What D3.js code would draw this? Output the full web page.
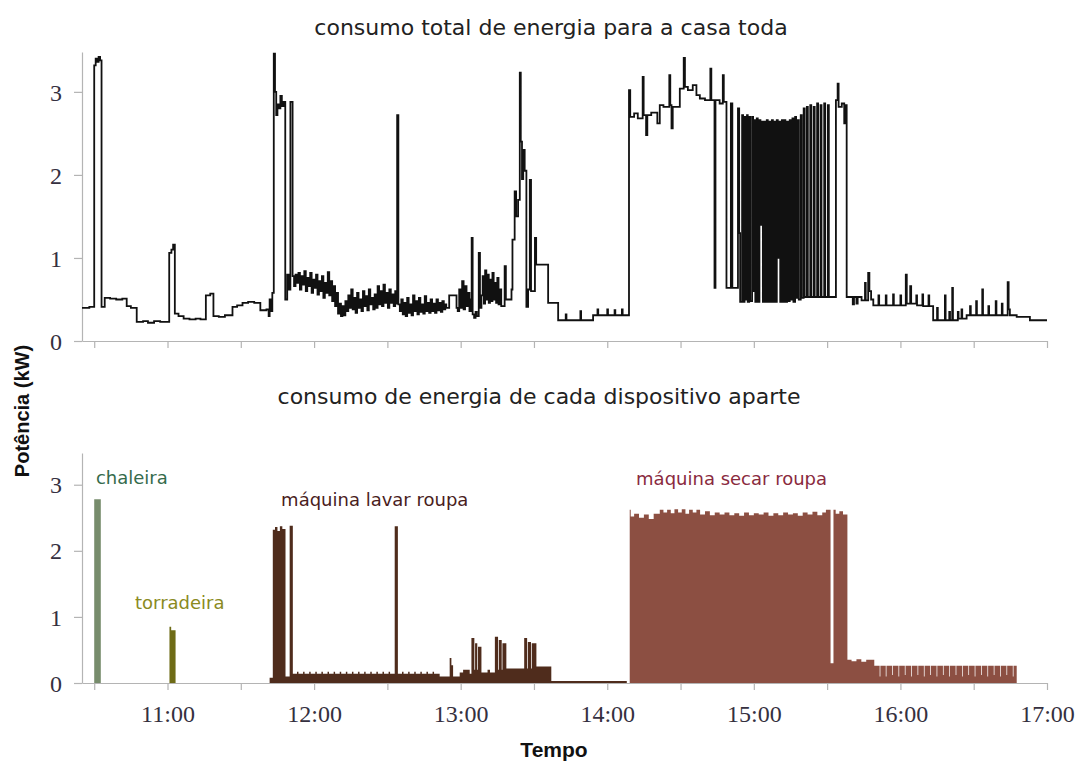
<!DOCTYPE html>
<html>
<head>
<meta charset="utf-8">
<script src="https://cdn.jsdelivr.net/npm/d3@7"></script>
<style>
  html, body { margin: 0; padding: 0; background: #fff; }
  svg { display: block; }
</style>
</head>
<body>
<svg id="chart" width="1080" height="765"></svg>
<script>
// ---------------- DATA (time in minutes of the day, power in kW) ----------------
const timeDomain = [625, 1020];            // 10:25 .. 17:00
const xTickValues = [630, 660, 690, 720, 750, 780, 810, 840, 870, 900, 930, 960, 990, 1020];
const xTickLabels = {660: "11:00", 720: "12:00", 780: "13:00", 840: "14:00", 900: "15:00", 960: "16:00", 1020: "17:00"};
const yTickValues = [0, 1, 2, 3];
const powerMax = 3.48;

const titleTop = "consumo total de energia para a casa toda";
const titleBottom = "consumo de energia de cada dispositivo aparte";
const yLabel = "Potência (kW)";
const xLabel = "Tempo";

// total house consumption (step series)
const totalSeries = [
 [625,0.40],[628,0.41],[630,3.32],[630.6,3.40],[631.2,3.36],[631.8,3.42],[632.4,3.38],[633,0.41],[634.3,0.52],[636.5,0.51],[639,0.50],[641.5,0.51],[643.3,0.42],[645,0.40],[647.4,0.23],[650,0.24],[652,0.22],[654.5,0.24],[657,0.23],
 [660.7,1.06],[661.6,1.10],[662.3,1.16],[663,0.33],[664.5,0.30],[666.6,0.27],[669,0.26],[671.5,0.27],[673.5,0.26],[675.7,0.55],[677.5,0.57],[678.8,0.30],[681,0.29],[683.5,0.31],[686.6,0.41],[688.5,0.43],[690.7,0.46],[693,0.47],[695.5,0.46],[698,0.37],[700.5,0.38],[701.4,0.30],[701.8,0.50],[702.4,0.36],[702.9,0.58],
 [703.5,3.46],[704.0,3.0],[704.5,2.72],[705,2.85],[705.6,2.80],[706.2,2.95],[706.8,2.83],[707.5,2.88],[708.2,0.50],[709,0.80],[709.6,0.62],[710.3,2.88],[711.2,0.78],
 [711.8,0.66],[712.4,0.80],[713,0.70],[713.6,0.82],[714.2,0.62],[714.8,0.78],[715.4,0.68],[716,0.84],[716.6,0.60],[717.2,0.76],[717.8,0.66],[718.4,0.82],[719,0.58],[719.6,0.74],[720.2,0.64],[720.8,0.80],[721.4,0.56],[722,0.72],[722.6,0.60],[723.2,0.78],[723.8,0.52],[724.4,0.70],[725,0.58],[725.6,0.83],[726.2,0.55],[726.8,0.72],[727.4,0.48],[728,0.66],[728.6,0.42],[729.2,0.58],[729.8,0.33],[730.4,0.45],[731,0.30],[731.6,0.42],[732.2,0.31],[732.8,0.48],[733.4,0.36],[734,0.55],[734.6,0.40],[735.2,0.62],[735.8,0.38],[736.4,0.52],[737,0.34],[737.6,0.58],[738.2,0.40],[738.8,0.50],[739.4,0.36],[740,0.60],[740.6,0.42],[741.2,0.54],[741.8,0.37],[742.4,0.62],[743,0.44],[743.6,0.52],[744.2,0.38],[744.8,0.56],[745.4,0.40],[746,0.66],[746.6,0.44],[747.2,0.60],[747.8,0.42],[748.4,0.68],[749,0.46],[749.6,0.58],[750.2,0.40],[750.8,0.62],[751.4,0.46],[752,0.56],[752.6,0.42],[753.2,0.60],[753.7,0.45],
 [754.0,2.72],[754.5,0.44],
 [755.1,0.36],[755.7,0.50],[756.3,0.32],[756.9,0.46],[757.5,0.30],[758.1,0.52],[758.7,0.34],[759.3,0.44],[759.9,0.31],[760.5,0.55],[761.1,0.36],[761.7,0.48],[762.3,0.32],[762.9,0.52],[763.5,0.35],[764.1,0.44],[764.7,0.33],[765.3,0.54],[765.9,0.36],[766.5,0.46],[767.1,0.34],[767.7,0.50],[768.3,0.36],[768.9,0.45],[769.5,0.34],[770.1,0.50],[770.7,0.37],[771.3,0.46],[771.9,0.35],[772.5,0.48],[773.1,0.38],[773.7,0.44],[774.1,0.40],
 [775.3,0.55],[778.3,0.40],
 [778.8,0.36],[779.4,0.62],[780,0.40],[780.6,0.72],[781.2,0.38],[781.8,0.66],[782.4,0.42],[783,0.58],[783.6,0.36],[784.2,0.50],[784.5,1.24],[784.9,0.32],[785.5,0.28],[786.1,0.35],[786.6,0.30],
 [787.4,1.06],[787.9,0.40],
 [788.5,0.55],[789,0.78],[789.5,0.45],[790,0.85],[790.5,0.50],[791,0.80],[791.5,0.46],[792,0.74],[792.5,0.48],[793,0.82],[793.5,0.50],[794,0.70],[794.5,0.46],[795,0.76],[795.5,0.44],[796,0.62],[796.6,0.42],
 [798,0.90],[798.5,0.50],[800.8,0.62],[801.2,1.22],[802.1,1.80],[802.7,1.50],[803.5,1.70],[804.2,3.23],[804.6,2.40],[805.1,1.95],[805.6,2.30],[806.2,2.05],[806.9,0.41],[807.6,0.62],[808.3,1.94],[808.8,0.60],[810.4,1.24],[810.9,0.92],[815.8,0.46],[819.9,0.25],
 [823,0.32],[823.3,0.25],[829,0.36],[829.3,0.25],[834.2,0.31],[836,0.38],[836.3,0.31],[840,0.38],[840.3,0.31],[843,0.37],[843.3,0.31],[846,0.38],[846.3,0.31],
 [848.9,3.02],[849.4,2.70],[851,2.74],[852.5,2.68],[854.5,3.18],[854.9,2.72],[855.9,2.48],[856.4,2.72],[858,2.75],[860.5,2.62],[861.5,2.84],[863,2.82],[865.4,3.20],[865.8,2.84],[866.3,2.56],[866.8,2.82],[869.7,3.04],[871.3,3.41],[871.8,3.06],[873,3.02],[875,3.08],[876.5,2.96],[877.9,2.92],[880,2.90],[882.2,3.28],[882.6,2.90],[883.9,0.64],[884.3,2.90],[886,2.86],[887.3,3.20],[887.7,2.88],
 [888.8,0.64],[890.6,2.86],[891.2,0.64],[893.5,2.80],[894,1.30],[894.4,0.47],[895.2,2.72],[895.6,0.47],[896.2,2.70],[896.6,0.50],[897.2,2.72],[897.5,0.47],[898.1,2.70],[898.5,0.48],[899.3,2.70],[899.7,0.60],[900.2,2.66],[900.6,0.47],[901.2,2.68],[901.6,0.47],[902.3,2.66],[902.7,1.40],[903.3,2.64],[903.7,0.47],[904.2,2.64],[904.7,0.47],[905.3,2.66],[905.7,0.47],[906.3,2.64],[906.7,0.47],[907.4,2.66],[907.8,0.47],[908.4,2.64],[908.8,0.47],[909.4,2.66],[909.8,1.00],[910.4,2.64],[910.8,0.47],[911.5,2.66],[911.9,0.47],[912.5,2.66],[912.9,0.47],[913.6,2.64],[914,0.48],[914.7,2.66],[915.1,0.50],[915.8,2.68],[916.2,0.47],[916.9,2.70],[917.3,0.52],[918,2.66],[918.4,0.50],[919.2,2.72],[919.6,0.52],[920.4,2.80],[920.8,0.53],[921.7,2.82],[922.1,0.53],[923.1,2.84],[923.5,0.53],[924.5,2.82],[924.9,0.53],[925.9,2.86],[926.3,0.53],[927.3,2.84],[927.7,0.53],[928.8,2.86],[929.2,0.53],[930.3,2.84],[930.7,0.53],
 [933.6,2.90],[934.3,3.10],[934.7,2.82],[936,2.86],[937,2.62],[937.5,2.84],[938,0.53],
 [940.5,0.44],[941,0.53],[942,0.45],[942.5,0.53],[944.1,0.49],[945.5,0.70],[945.8,0.49],[946.8,0.82],[947.3,0.60],[948,0.50],[948.9,0.43],[951,0.55],[951.3,0.43],[954,0.55],[954.3,0.43],[957,0.56],[957.3,0.43],[960,0.55],[960.3,0.43],[962.2,0.80],[962.6,0.45],[964,0.66],[964.4,0.45],[966.5,0.55],[966.8,0.43],[969,0.56],[969.3,0.42],[971.5,0.55],[971.8,0.42],
 [973.4,0.25],[975,0.40],[975.3,0.25],[978.2,0.55],[978.5,0.25],[980,0.35],[980.3,0.25],[981.2,0.64],[981.5,0.25],[983.5,0.35],[983.8,0.27],[985,0.38],[985.3,0.27],
 [987.1,0.31],[988.5,0.42],[988.8,0.31],[991,0.48],[991.3,0.31],[993.5,0.62],[993.8,0.31],[996,0.42],[996.3,0.31],[999,0.48],[999.3,0.31],[1001.5,0.45],[1001.8,0.31],[1003.9,0.71],[1004.3,0.38],[1004.8,0.31],[1007.6,0.29],[1013,0.25],[1020,0.25]
];

// individual appliances (step series)
const deviceNames = ["chaleira", "torradeira", "máquina lavar roupa", "máquina secar roupa"];
const deviceFill = ["#778c6c", "#6e6b16", "#4f2c1c", "#8c4f42"];
const deviceLabelColor = ["#356b4c", "#8a8a22", "#4a1d1d", "#8a2a3e"];

const kettleSeries = [[630,2.78],[632.7,0]];
const toasterSeries = [[660.8,0.85],[661.5,0.80],[663.3,0]];
const washerSeries = [
 [701.8,0.08],[703.1,2.32],[704,2.36],[705,2.30],[706,2.37],[707,2.33],[708.3,0.10],[710,2.38],[711.3,0.14],
 [713,0.17],[713.6,0.14],[715.5,0.17],[716.1,0.14],[718,0.17],[718.6,0.14],[720.5,0.17],[721.1,0.14],[723,0.17],[723.6,0.14],[725.5,0.17],[726.1,0.14],[728,0.17],[728.6,0.14],[730.5,0.17],[731.1,0.14],[733,0.17],[733.6,0.14],[735.5,0.17],[736.1,0.14],[738,0.17],[738.6,0.14],[740.5,0.17],[741.1,0.14],[743,0.17],[743.6,0.14],[745.5,0.17],[746.1,0.14],[748,0.17],[748.6,0.14],[750.5,0.17],[751.1,0.14],
 [753,2.37],[754.3,0.14],[756,0.17],[756.6,0.14],[758.5,0.17],[759.1,0.14],[761,0.17],[761.6,0.14],[763.5,0.17],[764.1,0.14],[766,0.17],[766.6,0.14],[768.5,0.17],[769.1,0.14],
 [771.4,0.10],[775.5,0.38],[776.2,0.27],[776.9,0.10],[779.6,0.16],[781,0.20],[783.7,0.14],
 [784.4,0.68],[785.6,0.20],[785.9,0.60],[786.8,0.20],[787.1,0.55],[788.5,0.16],[791,0.20],[792,0.16],
 [794,0.70],[795.3,0.20],[795.6,0.65],[796.8,0.20],[797.1,0.60],[798.7,0.22],
 [806,0.68],[807.2,0.22],[807.5,0.62],[808.8,0.22],[809.1,0.60],[811,0.25],[817.1,0.03],[848,0]
];
const dryerSeries = [
 [849.2,2.62],[849.6,2.52],[851,2.56],[853,2.50],[855,2.55],[857,2.48],[859,2.56],[861.5,2.62],[863,2.58],[864.5,2.62],[866,2.57],[867.5,2.63],[869,2.58],[870.5,2.63],[872,2.56],[873.5,2.62],[875,2.58],[876.5,2.62],[878,2.55],[880,2.60],[882,2.54],[884,2.58],[886,2.55],[888,2.58],[890,2.54],[892,2.57],[894,2.53],[896,2.58],[898,2.54],[900,2.57],[902,2.55],[904,2.58],[906,2.53],[908,2.57],[910,2.54],[912,2.58],[914,2.55],[916,2.57],[918,2.53],[920,2.58],[922,2.55],[924,2.59],[926,2.54],[928,2.58],[929.5,2.62],
 [931.4,0.30],[932.6,2.62],[933.5,2.56],[935,2.60],[936.5,2.55],[938.3,0.35],[940,0.33],[942,0.36],[944,0.32],[946,0.35],
 [949.3,0.26],[951.5,0.10],[951.8,0.26],[954,0.10],[954.3,0.26],[956.6,0.12],[956.9,0.26],[959.2,0.10],[959.5,0.26],[961.8,0.12],[962.1,0.26],[964.4,0.10],[964.7,0.26],[967,0.12],[967.3,0.26],[969.6,0.10],[969.9,0.26],[972.2,0.12],[972.5,0.26],[974.8,0.10],[975.1,0.26],[977.4,0.12],[977.7,0.26],[980,0.10],[980.3,0.26],[982.6,0.12],[982.9,0.26],[985.2,0.10],[985.5,0.26],[987.8,0.12],[988.1,0.26],[990.4,0.10],[990.7,0.26],[993,0.12],[993.3,0.26],[995.6,0.10],[995.9,0.26],[998.2,0.12],[998.5,0.26],[1000.8,0.10],[1001.1,0.26],[1003.4,0.12],[1003.7,0.26],[1006,0.10],[1006.3,0.26],[1007.6,0]
];
const deviceSeries = [kettleSeries, toasterSeries, washerSeries, dryerSeries];
// label anchor: [minute, kW] (text baseline start)
const deviceLabelPos = [[630.7, 3.01], [646.7, 1.12], [706.5, 2.68], [851.8, 3.0]];

// ---------------- DRAWING ----------------
const svg = d3.select("#chart");
const axisColor = "#b4b4b4";
const tickFont = "'Liberation Serif', 'DejaVu Serif', serif";
const sansFont = "'DejaVu Sans', 'Liberation Sans', sans-serif";

const x = d3.scaleLinear().domain(timeDomain).range([82, 1047]);
const yTop = d3.scaleLinear().domain([0, powerMax]).range([341, 52]);
const yBot = d3.scaleLinear().domain([0, powerMax]).range([683, 453]);

function styleAxis(g) {
  g.select(".domain").attr("stroke", axisColor).attr("stroke-width", 1.2);
  g.selectAll(".tick line").attr("stroke", axisColor).attr("stroke-width", 1.2);
  g.selectAll(".tick text").attr("fill", "#353040").style("font-family", tickFont).style("font-size", "24px");
}

function drawPanel(y, showXLabels) {
  const gx = svg.append("g").attr("transform", `translate(0,${y(0)})`)
    .call(d3.axisBottom(x).tickValues(xTickValues).tickSize(7).tickSizeOuter(0)
      .tickPadding(15)
      .tickFormat(d => showXLabels ? (xTickLabels[d] || "") : ""));
  styleAxis(gx);
  const gy = svg.append("g").attr("transform", `translate(${x(timeDomain[0])},0)`)
    .call(d3.axisLeft(y).tickValues(yTickValues).tickSize(8).tickSizeOuter(0).tickPadding(12).tickFormat(d3.format("d")));
  styleAxis(gy);
  gy.selectAll(".tick text").attr("dy", "0.34em");
}

drawPanel(yTop, false);
drawPanel(yBot, true);

// top: total consumption line
const lineTop = d3.line().curve(d3.curveStepAfter).x(d => x(d[0])).y(d => yTop(d[1]));
svg.append("path").datum(totalSeries)
  .attr("d", lineTop).attr("fill", "none")
  .attr("stroke", "#111").attr("stroke-width", 1.8).attr("stroke-linejoin", "miter");

// bottom: each appliance as a filled step area
const areaBot = d3.area().curve(d3.curveStepAfter)
  .x(d => x(d[0])).y0(yBot(0)).y1(d => yBot(d[1]));
deviceSeries.forEach((s, i) => {
  svg.append("path").datum(s).attr("d", areaBot)
    .attr("fill", deviceFill[i]).attr("stroke", "none");
});

// device labels
deviceNames.forEach((n, i) => {
  svg.append("text")
    .attr("x", x(deviceLabelPos[i][0])).attr("y", yBot(deviceLabelPos[i][1]))
    .attr("fill", deviceLabelColor[i])
    .style("font-family", sansFont).style("font-size", "18px")
    .text(n);
});

// titles
svg.append("text").attr("x", 551).attr("y", 35).attr("text-anchor", "middle")
  .style("font-family", sansFont).style("font-size", "22px").attr("fill", "#222")
  .text(titleTop);
svg.append("text").attr("x", 539).attr("y", 404).attr("text-anchor", "middle")
  .style("font-family", sansFont).style("font-size", "22px").attr("fill", "#222")
  .text(titleBottom);

// axis titles
svg.append("text").attr("transform", "translate(29,411) rotate(-90)").attr("text-anchor", "middle")
  .style("font-family", "'Liberation Sans', Arial, sans-serif").style("font-size", "20px").style("font-weight", "bold")
  .attr("fill", "#111").text(yLabel);
svg.append("text").attr("x", 554).attr("y", 757).attr("text-anchor", "middle")
  .style("font-family", "'Liberation Sans', Arial, sans-serif").style("font-size", "21px").style("font-weight", "bold")
  .attr("fill", "#111").text(xLabel);
</script>
</body>
</html>
